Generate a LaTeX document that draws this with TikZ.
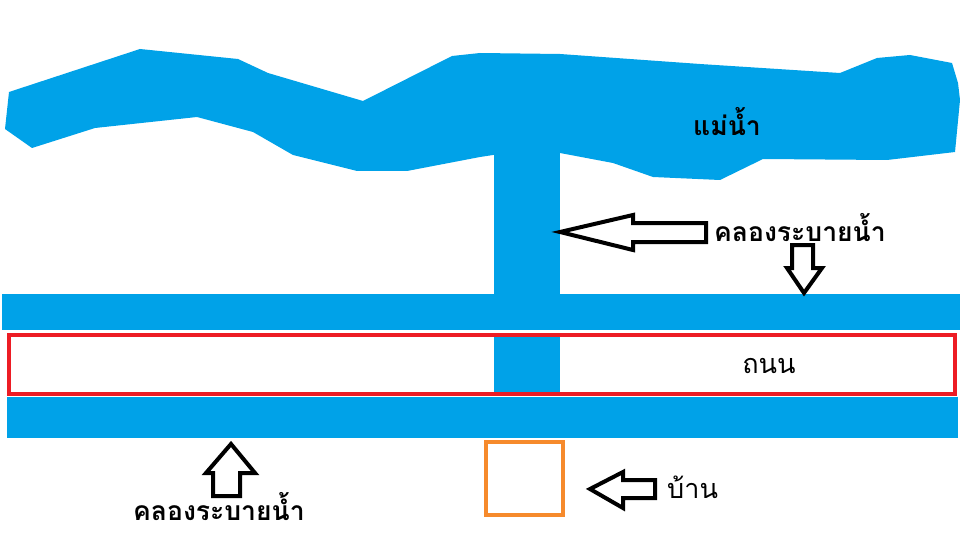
\documentclass[tikz,border=0pt]{standalone}
\usepackage{fontspec}
\newfontfamily\thaifont[Script=Thai]{Loma}
\definecolor{water}{HTML}{00A2E8}
\definecolor{roadred}{HTML}{ED1C24}
\definecolor{houseorange}{HTML}{F68A2C}
\tikzset{
  blockarrow/.style={draw=black, line width=4pt, line join=miter, fill=white},
  thailabel/.style={font=\thaifont\bfseries\fontsize{26.5}{30}\selectfont, inner sep=0pt},
  thaiplain/.style={font=\thaifont\fontsize{27}{30}\selectfont, inner sep=0pt}
}
\begin{document}
\begin{tikzpicture}[x=1pt,y=-1pt]
\useasboundingbox (0,0) rectangle (960,540);
\fill[white] (0,0) rectangle (960,540);
% river
\fill[water] (9,92) -- (140,49) -- (238,59) -- (268,73) -- (363,101) -- (452,56) -- (480,53) -- (560,54)
  -- (700,64) -- (840,73) -- (877,58) -- (910,55) -- (952,63) -- (958,83) -- (960,100) -- (955,152)
  -- (887,160) -- (763,159) -- (720,180) -- (653,177) -- (613,163) -- (560,153)
  -- (493,155) -- (480,157) -- (407,171) -- (357,171) -- (293,155) -- (253,132) -- (197,117)
  -- (95,128) -- (32,148) -- (5,129) -- cycle;
% vertical drainage canal
\fill[water] (494,150) rectangle (560,296);
% canals along road
\fill[water] (2,294) rectangle (960,330);
\fill[water] (7,397) rectangle (958,438);
% road
\draw[roadred, line width=4pt] (9,335) rectangle (955,394);
\fill[water] (494,337) rectangle (560,392);
% house
\draw[houseorange, line width=4pt] (486,442) rectangle (563,515);
% arrows
\draw[blockarrow] (560,232) -- (633,215) -- (633,223) -- (706,223) -- (706,242) -- (633,242) -- (633,250) -- cycle;
\draw[blockarrow] (804,293) -- (787,268) -- (792,268) -- (792,245) -- (813,245) -- (813,268) -- (822,268) -- cycle;
\draw[blockarrow] (231,444) -- (206,473) -- (213,473) -- (213,496) -- (240,496) -- (240,473) -- (255,473) -- cycle;
\draw[blockarrow] (590,489) -- (623,472) -- (623,480) -- (655,480) -- (655,498) -- (623,498) -- (623,508) -- cycle;
% labels
\node[thailabel] (river) at (727,122) {แม่น้ำ};
\node[thailabel, anchor=west] (canal1) at (714,228) {คลองระบายน้ำ};
\node[thailabel, anchor=west] (canal2) at (133,507) {คลองระบายน้ำ};
\node[thaiplain] (road) at (769,366) {ถนน};
\node[thaiplain, anchor=west] (house) at (667,487) {บ้าน};
\end{tikzpicture}
\end{document}
